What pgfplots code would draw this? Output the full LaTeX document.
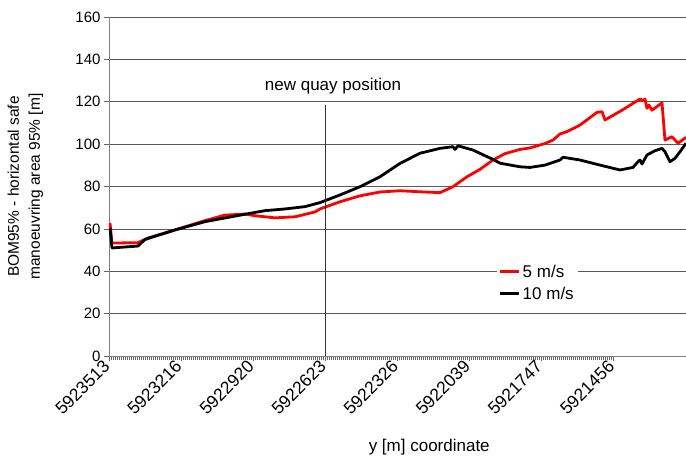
\documentclass[border=0pt]{standalone}
\usepackage{fontspec}
\setmainfont{Liberation Sans}
\usepackage{pgfplots}
\pgfplotsset{compat=1.18}

\pgfplotstableread{
x y
1 62.8
3 53.3
29 53.5
39 55.7
66 59.5
96 63.9
116 66.5
136 67.0
146 66.2
166 65.2
186 65.7
206 68.0
211 69.4
231 72.8
251 75.6
271 77.4
291 78.0
311 77.5
331 77.1
344 79.9
358 84.6
371 88.1
384 92.5
396 95.5
411 97.5
421 98.2
436 100.3
444 101.9
451 104.8
458 105.9
471 109.0
488 115.0
493 115.3
496 111.4
513 116.0
531 121.3
534 120.5
536 121.3
538 116.9
540 118.4
543 116.0
553 119.5
556 101.9
563 103.5
569 100.4
577 103.2
}\redtab

\pgfplotstableread{
x y
1 60.5
3 51.0
29 51.9
36 55.0
66 59.5
96 63.4
136 66.9
156 68.6
176 69.4
196 70.5
211 72.4
231 76.0
251 79.9
271 84.6
291 90.9
311 95.7
331 98.0
344 98.8
346 97.5
349 99.2
364 97.2
378 94.1
384 92.8
391 91.0
411 89.3
421 89.0
436 90.1
451 92.5
454 93.8
471 92.5
491 90.1
511 87.8
524 89.0
529 91.7
531 92.5
533 90.6
538 94.9
546 96.9
553 98.0
556 96.4
561 91.7
566 93.3
571 96.4
577 100.4
}\blacktab

\newcommand\fA{\fontsize{17}{20}\selectfont}
\newcommand\fY{\fontsize{15.5}{21}\selectfont}
\newcommand\fT{\fontsize{15}{18}\selectfont}
\newcommand\fX{\fontsize{17.5}{20}\selectfont}

\begin{document}
\begin{tikzpicture}
\begin{axis}[
  scale only axis, width=577pt, height=339pt,
  xmin=0, xmax=577, ymin=0, ymax=160,
  axis lines=left,
  axis line style={-, draw=black!50, line width=0.8pt},
  ytick={0,20,...,160},
  xtick={0,72.1,144.2,216.3,288.4,360.5,432.6,504.7},
  xticklabels={5923513,5923216,5922920,5922623,5922326,5922039,5921747,5921456},
  minor x tick num=35,
  tick align=outside, major tick length=5pt, minor tick length=4pt,
  tick style={black!60, line width=0.5pt},
  ymajorgrids, grid style={black!65, line width=0.6pt},
  /pgf/number format/assume math mode=true,
  yticklabel style={font=\fT},
  xticklabel style={font=\fX, rotate=45, anchor=east},
  ylabel={BOM95\% - horizontal safe\\manoeuvring area 95\% [m]},
  ylabel style={align=center, font=\fY, at={(axis description cs:-0.108,0.5)}, anchor=south},
  xlabel={y [m] coordinate},
  xlabel style={at={(axis description cs:0.555,0)}, anchor=center, yshift=-91pt, font=\fA},
  legend style={at={(axis description cs:0.672,0.281)}, anchor=north west, draw=none, fill=white,
    font=\fA, row sep=4pt, inner sep=2pt},
  legend cell align=left,
  legend image code/.code={\draw[#1] (0pt,0pt) -- (19pt,0pt);},
]
\addplot[red, line width=2.8pt, line join=round] table[x=x,y=y] {\redtab};
\addlegendentry{5 m/s}
\addplot[black, line width=2.8pt, line join=round] table[x=x,y=y] {\blacktab};
\addlegendentry{10 m/s}
\draw[black!80, line width=0.6pt] (axis cs:216.3,0) -- (axis cs:216.3,118.5);
\node[font=\fA] at (axis cs:224,127.4) {new quay position};
\end{axis}
\pgfresetboundingbox
\path[use as bounding box] (-109pt,-102pt) rectangle (577pt,356pt);
\end{tikzpicture}
\end{document}
